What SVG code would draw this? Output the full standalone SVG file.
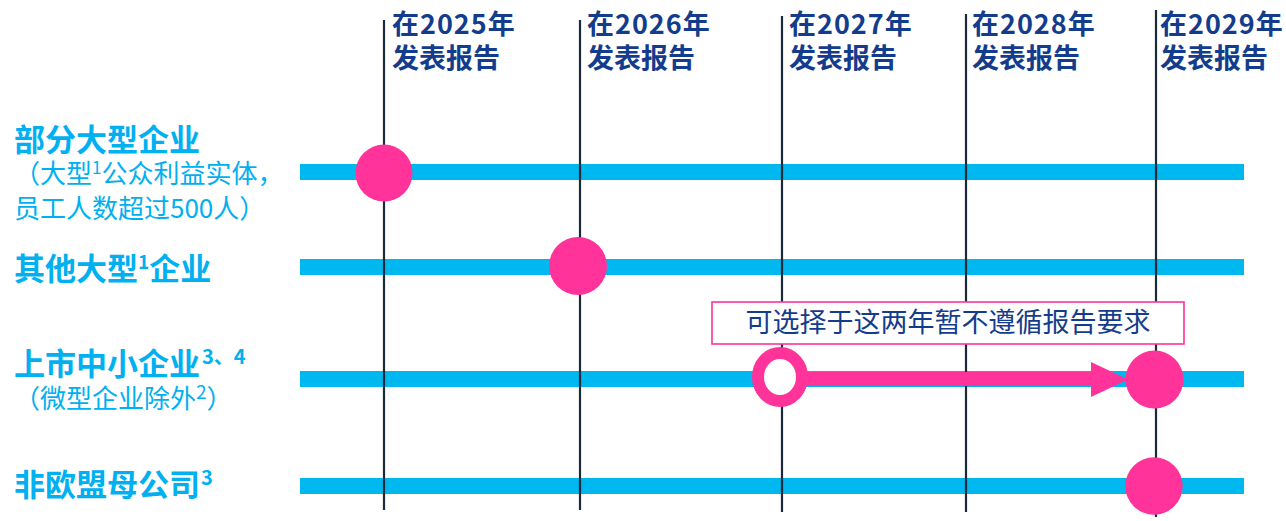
<svg xmlns="http://www.w3.org/2000/svg" width="1286" height="521" viewBox="0 0 1286 521">
<style>
.hdr{font-family:"Noto Sans CJK SC","Noto Sans",sans-serif;font-weight:bold;font-size:27px;fill:#143C8C}
.yr{letter-spacing:1px}
.lbl{font-family:"Noto Sans CJK SC","Noto Sans",sans-serif;font-weight:bold;font-size:31px;fill:#00B0F0}
.sub{font-family:"Noto Sans CJK SC","Noto Sans",sans-serif;font-size:26px;fill:#00B0F0}
.sup{font-size:17px}
.note{font-family:"Noto Sans CJK SC","Noto Sans",sans-serif;font-size:27px;fill:#143C8C}
.bar{fill:#00B8F0}
.vl{stroke:#1B2A3A;stroke-width:2.2}
.dot{fill:#FF3399}
</style>
<rect width="1286" height="521" fill="#FFFFFF"/>
<g id="bars">
<rect class="bar" x="300" y="164" width="944" height="16"/>
<rect class="bar" x="300" y="259" width="944" height="16"/>
<rect class="bar" x="300" y="371" width="944" height="16"/>
<rect class="bar" x="300" y="478" width="944" height="16"/>
</g>
<g id="connectors">
<line class="vl" x1="384" y1="20" x2="384" y2="510"/>
<line class="vl" x1="580" y1="20" x2="580" y2="510"/>
<line class="vl" x1="782" y1="16" x2="782" y2="512"/>
<line class="vl" x1="966" y1="14" x2="966" y2="512"/>
<line class="vl" x1="1156" y1="10" x2="1156" y2="517"/>
<rect x="806" y="372" width="287" height="14" fill="#FF3399"/>
<polygon points="1091,362 1128,379.5 1091,397" fill="#FF3399"/>
</g>
<g id="headers">
<g id="h2025"><text class="hdr yr" x="392" y="34">在2025年</text><text class="hdr" x="392" y="68">发表报告</text></g>
<g id="h2026"><text class="hdr yr" x="587" y="34">在2026年</text><text class="hdr" x="587" y="68">发表报告</text></g>
<g id="h2027"><text class="hdr yr" x="789" y="34">在2027年</text><text class="hdr" x="789" y="68">发表报告</text></g>
<g id="h2028"><text class="hdr yr" x="972" y="34">在2028年</text><text class="hdr" x="972" y="68">发表报告</text></g>
<g id="h2029"><text class="hdr yr" x="1160" y="34">在2029年</text><text class="hdr" x="1160" y="68">发表报告</text></g>
</g>
<g id="row1">
<text class="lbl" x="14" y="151">部分大型企业</text>
<text class="sub" x="14" y="183">（大型<tspan class="sup" dy="-9">1</tspan><tspan dy="9">公众利益实体，</tspan></text>
<text class="sub" x="14" y="218">员工人数超过500人）</text>
</g>
<g id="row2">
<text class="lbl" x="14" y="280">其他大型<tspan font-size="19" dy="-11">1</tspan><tspan dy="11">企业</tspan></text>
</g>
<g id="row3">
<text class="lbl" x="14" y="375">上市中小企业<tspan font-size="20" dx="2" dy="-11">3、4</tspan></text>
<text class="sub" x="14" y="408">（微型企业除外<tspan font-size="19" dy="-9">2</tspan><tspan dy="9">）</tspan></text>
</g>
<g id="row4">
<text class="lbl" x="14" y="496">非欧盟母公司<tspan font-size="20" dx="1" dy="-11">3</tspan></text>
</g>
<g id="dot2025"><circle class="dot" cx="384" cy="173" r="28.5"/></g>
<g id="dot2026"><circle class="dot" cx="578" cy="266" r="29"/></g>
<g id="open2027"><ellipse cx="780" cy="377" rx="22" ry="24" fill="#FFFFFF" stroke="#FF3399" stroke-width="12"/></g>
<g id="dot2029a"><circle class="dot" cx="1154.5" cy="379.5" r="29"/></g>
<g id="dot2029b"><circle class="dot" cx="1154" cy="486" r="28.7"/></g>
<g id="note">
<rect x="712" y="302" width="472" height="42" fill="#FFFFFF" stroke="#FF3399" stroke-width="1.6"/>
<text class="note" x="948" y="332" text-anchor="middle">可选择于这两年暂不遵循报告要求</text>
</g>
</svg>
